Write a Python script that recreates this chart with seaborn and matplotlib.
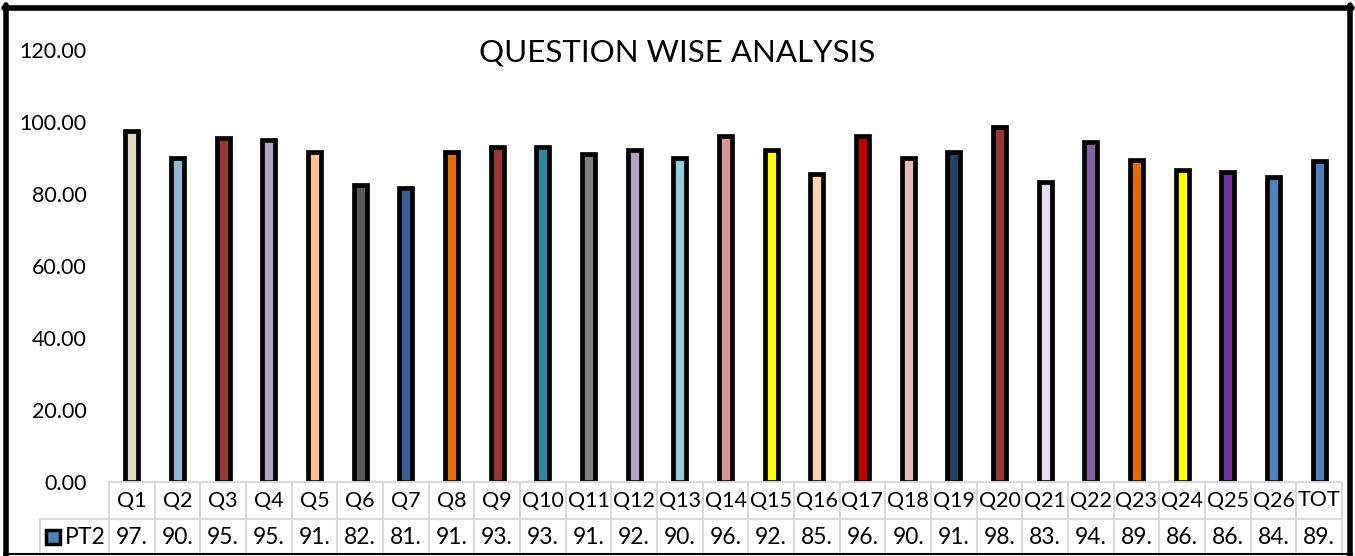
import matplotlib
matplotlib.use("Agg")
import matplotlib.pyplot as plt
import matplotlib.transforms as mtransforms
from matplotlib.lines import Line2D
import seaborn as sns
import pandas as pd

categories = ["Q1", "Q2", "Q3", "Q4", "Q5", "Q6", "Q7", "Q8", "Q9", "Q10", "Q11", "Q12", "Q13",
              "Q14", "Q15", "Q16", "Q17", "Q18", "Q19", "Q20", "Q21", "Q22", "Q23", "Q24", "Q25",
              "Q26", "TOT"]
pt2_values = [97.5, 90.1, 95.6, 95.1, 91.7, 82.5, 81.7, 91.7, 93.1, 93.1, 91.1, 92.2, 90.0,
              96.1, 92.2, 85.6, 96.1, 90.0, 91.7, 98.6, 83.3, 94.4, 89.4, 86.7, 86.0,
              84.7, 89.1]
bar_colors = ["#ddd9c3", "#95b3d7", "#953735", "#b3a2c7", "#fac090", "#595959", "#376092",
              "#e46c0a", "#953735", "#31859c", "#7f7f7f", "#b3a2c7", "#93cddd", "#d99694",
              "#ffff00", "#fcd5b5", "#c00000", "#e6b9b8", "#254061", "#953735", "#e6e0ec",
              "#8064a2", "#e46c0a", "#ffff00", "#7030a0", "#4f81bd", "#4f81bd"]
series_name = "PT2"
y_ticks = [0, 20, 40, 60, 80, 100, 120]
title = "QUESTION WISE ANALYSIS"

sns.set_theme(style="white")
plt.rcParams["font.family"] = ["Lato", "DejaVu Sans"]

W, H = 1355, 556
fig = plt.figure(figsize=(W / 100, H / 100), dpi=100)
ax_left, ax_right = 109, 1342
ax_top, ax_bottom = 50, 482
ax = fig.add_axes([ax_left / W, (H - ax_bottom) / H, (ax_right - ax_left) / W, (ax_bottom - ax_top) / H])

df = pd.DataFrame({"cat": categories, "val": pt2_values})
sns.barplot(data=df, x="cat", y="val", hue="cat", palette=bar_colors, legend=False,
            width=0.29, edgecolor="black", linewidth=3.4, ax=ax, saturation=1)

ax.set_xlim(-0.5, len(categories) - 0.5)
ax.set_ylim(0, 120)
ax.set_yticks(y_ticks)
ax.set_yticklabels([f"{t:.2f}" for t in y_ticks], fontsize=15.5, color="#000000")
ax.tick_params(axis="y", length=0, pad=16)
ax.set_xticks([])
ax.set_xlabel("")
ax.set_ylabel("")
for s in ax.spines.values():
    s.set_visible(False)

fig.text(0.5, (H - 52) / H, title, ha="center", va="center", fontsize=22.5, color="#000000")

# data table
trans = mtransforms.blended_transform_factory(ax.transData, ax.transAxes)
ah = ax_bottom - ax_top
r1 = -37 / ah
r2 = -73 / ah
grid_c = "#d9d9d9"
n = len(categories)
colw = (ax_right - ax_left) / n
leg_left = -0.5 - (ax_left - 40) / colw

for i in range(n + 1):
    ax.add_line(Line2D([i - 0.5, i - 0.5], [0, r2], transform=trans, color=grid_c, lw=1.5, clip_on=False))
ax.add_line(Line2D([-0.5, n - 0.5], [0, 0], transform=trans, color=grid_c, lw=1.5, clip_on=False))
ax.add_line(Line2D([leg_left, n - 0.5], [r1, r1], transform=trans, color=grid_c, lw=1.5, clip_on=False))
ax.add_line(Line2D([leg_left, leg_left], [r1, r2], transform=trans, color=grid_c, lw=1.5, clip_on=False))

for i, (c, v) in enumerate(zip(categories, pt2_values)):
    ax.text(i, r1 / 2, c, transform=trans, ha="center", va="center", fontsize=15.5, color="#000000")
    ax.text(i, (r1 + r2) / 2, f"{int(v)}.", transform=trans, ha="center", va="center",
            fontsize=16.5, color="#000000")

key_x = -0.5 - (ax_left - 53) / colw
txt_x = -0.5 - (ax_left - 65) / colw
ax.plot([key_x], [(r1 + r2) / 2], marker="s", markersize=10, mfc="#4f81bd", mec="black",
        mew=2.5, transform=trans, clip_on=False, ls="none")
ax.text(txt_x, (r1 + r2) / 2, series_name, transform=trans, ha="left", va="center",
        fontsize=16.5, color="#000000")

# outer chart border
bt = 4.0
fig.add_artist(Line2D([6 / W, 6 / W], [0, 1 - 5 / H], transform=fig.transFigure, color="black", lw=bt))
fig.add_artist(Line2D([1350 / W, 1350 / W], [0, 1 - 5 / H], transform=fig.transFigure, color="black", lw=bt))
fig.add_artist(Line2D([4 / W, 1352 / W], [1 - 8 / H, 1 - 8 / H], transform=fig.transFigure, color="black", lw=bt))
fig.add_artist(Line2D([4 / W, 1352 / W], [2 / H, 2 / H], transform=fig.transFigure, color="black", lw=1.5))

fig.savefig("out.png", dpi=100, facecolor="white")
